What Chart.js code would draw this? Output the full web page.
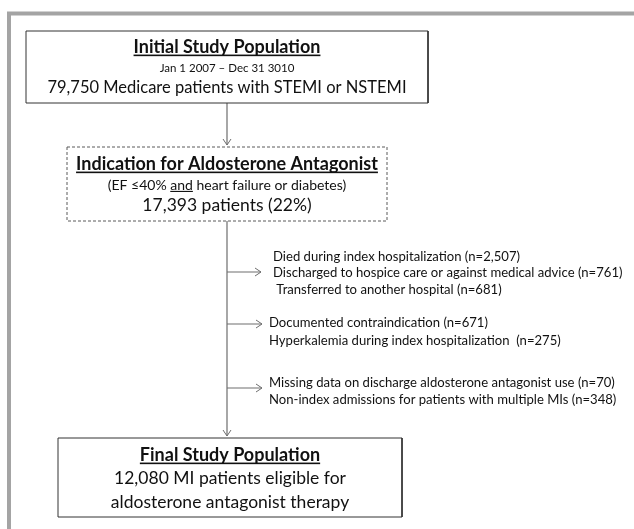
<!DOCTYPE html>
<html>
<head>
<meta charset="utf-8">
<script src="https://cdn.jsdelivr.net/npm/chart.js@4.4.1/dist/chart.umd.min.js"></script>
<style>
  html, body { margin: 0; padding: 0; background: #fff; }
  canvas { display: block; }
</style>
</head>
<body>
<canvas id="flowChart" width="634" height="529"></canvas>
<script>
// data
const stageTitles = ['Initial Study Population', 'Indication for Aldosterone Antagonist', 'Final Study Population'];
const stageNotes = ['Jan 1 2007 \u2013 Dec 31 3010', '(EF \u226440% _and_ heart failure or diabetes)', ''];
const stageCounts = [79750, 17393, 12080];
const stagePercents = [null, 22, null];
const exclusionReasons = [
    ['Died during index hospitalization', 'Discharged to hospice care or against medical advice', ' Transferred to another hospital'],
    ['Documented contraindication', 'Hyperkalemia during index hospitalization '],
    ['Missing data on discharge aldosterone antagonist use', 'Non-index admissions for patients with multiple MIs']
];
const exclusionCounts = [[2507, 761, 681], [671, 275], [70, 348]];

const fmt = n => n.toLocaleString('en-US');

// layout (chart units = pixels of the 634x529 page)
const spineX = 227;
const boxes = [
    { x0: 26, x1: 428, y0: 31, y1: 103, dashed: false },
    { x0: 67, x1: 387, y0: 147, y1: 221, dashed: true },
    { x0: 58, x1: 402, y0: 438, y1: 517, dashed: false }
];
const boxLines = [
    [
        { text: '_' + stageTitles[0] + '_', y: 47, size: 18, bold: true },
        { text: stageNotes[0], y: 68, size: 11.5 },
        { text: fmt(stageCounts[0]) + ' Medicare patients with STEMI or NSTEMI', y: 88, size: 16.5 }
    ],
    [
        { text: '_' + stageTitles[1] + '_', y: 164, size: 18, bold: true },
        { text: stageNotes[1], y: 185, size: 14 },
        { text: fmt(stageCounts[1]) + ' patients (' + stagePercents[1] + '%)', y: 205, size: 17.5 }
    ],
    [
        { text: '_' + stageTitles[2] + '_', y: 455, size: 18, bold: true },
        { text: fmt(stageCounts[2]) + ' MI patients eligible for', y: 478, size: 17.5 },
        { text: 'aldosterone antagonist therapy', y: 502, size: 17.5 }
    ]
];
const branchY = [272, 324, 388];
const branchTipX = [261, 262, 262];
const branchTextX = [273, 269, 269];
const branchTextY = [[257, 273, 290], [323, 341], [383, 400]];

const FONT = 'Lato, "Open Sans", sans-serif';
const INK = '#111111';
const LINK = '#6e6e6e';

function rect(b) {
    return [
        { x: b.x0, y: b.y0 }, { x: b.x1, y: b.y0 }, { x: b.x1, y: b.y1 },
        { x: b.x0, y: b.y1 }, { x: b.x0, y: b.y0 }
    ];
}

const datasets = [];
// gray frame round the figure
datasets.push({ data: [{ x: 9, y: 560 }, { x: 9, y: 13.5 }, { x: 660, y: 13.5 }], borderColor: '#a4a4a4', borderWidth: 4 });
boxes.forEach(b => {
    datasets.push({ data: rect(b), borderColor: b.dashed ? '#5a5a5a' : '#333333', borderWidth: 1, borderDash: b.dashed ? [3, 2] : [] });
});
// spine
datasets.push({ data: [{ x: spineX, y: boxes[0].y1 }, { x: spineX, y: boxes[1].y0 - 2 }], borderColor: LINK, borderWidth: 1.2 });
datasets.push({ data: [{ x: spineX, y: boxes[1].y1 }, { x: spineX, y: boxes[2].y0 - 2 }], borderColor: LINK, borderWidth: 1.2 });
// branches
branchY.forEach((y, i) => {
    datasets.push({ data: [{ x: spineX, y: y }, { x: branchTipX[i], y: y }], borderColor: LINK, borderWidth: 1.2 });
});

function drawRich(ctx, str, cx, cy, size, bold) {
    const parts = str.split('_');
    ctx.font = (bold ? 'bold ' : '') + size + 'px ' + FONT;
    const total = parts.reduce((s, p) => s + ctx.measureText(p).width, 0);
    let x = cx - total / 2;
    parts.forEach((p, i) => {
        const w = ctx.measureText(p).width;
        ctx.fillText(p, x, cy);
        if (i % 2 === 1) {
            ctx.fillRect(x, cy + size * 0.42, w, bold ? 1.6 : 1.1);
        }
        x += w;
    });
}

const flowText = {
    id: 'flowText',
    afterDatasetsDraw(chart) {
        const ctx = chart.ctx;
        const sx = chart.scales.x, sy = chart.scales.y;
        const px = v => sx.getPixelForValue(v), py = v => sy.getPixelForValue(v);
        ctx.save();
        ctx.fillStyle = INK;
        ctx.textBaseline = 'middle';
        ctx.textAlign = 'left';
        boxLines.forEach((lines, i) => {
            const cx = px((boxes[i].x0 + boxes[i].x1) / 2);
            lines.forEach(l => drawRich(ctx, l.text, cx, py(l.y), l.size, l.bold));
        });
        ctx.font = '13.1px ' + FONT;
        exclusionReasons.forEach((group, g) => {
            group.forEach((reason, k) => {
                ctx.fillText(reason + ' (n=' + fmt(exclusionCounts[g][k]) + ')', px(branchTextX[g]), py(branchTextY[g][k]));
            });
        });
        // open arrow heads
        ctx.strokeStyle = LINK;
        ctx.lineWidth = 1;
        const down = y => {
            ctx.beginPath();
            ctx.moveTo(px(spineX - 4), py(y - 6));
            ctx.lineTo(px(spineX), py(y));
            ctx.lineTo(px(spineX + 4), py(y - 6));
            ctx.stroke();
        };
        down(boxes[1].y0 - 2);
        down(boxes[2].y0 - 2);
        branchY.forEach((y, i) => {
            ctx.beginPath();
            ctx.moveTo(px(branchTipX[i] - 6), py(y - 4));
            ctx.lineTo(px(branchTipX[i]), py(y));
            ctx.lineTo(px(branchTipX[i] - 6), py(y + 4));
            ctx.stroke();
        });
        ctx.restore();
    }
};

new Chart(document.getElementById('flowChart'), {
    type: 'scatter',
    data: { datasets: datasets },
    options: {
        responsive: false,
        animation: false,
        showLine: true,
        elements: { point: { radius: 0, hoverRadius: 0 }, line: { tension: 0 } },
        layout: { padding: 0 },
        plugins: { legend: { display: false }, tooltip: { enabled: false } },
        scales: {
            x: { type: 'linear', min: 0, max: 634, display: false },
            y: { type: 'linear', min: 0, max: 529, reverse: true, display: false }
        }
    },
    plugins: [flowText]
});
</script>
</body>
</html>
